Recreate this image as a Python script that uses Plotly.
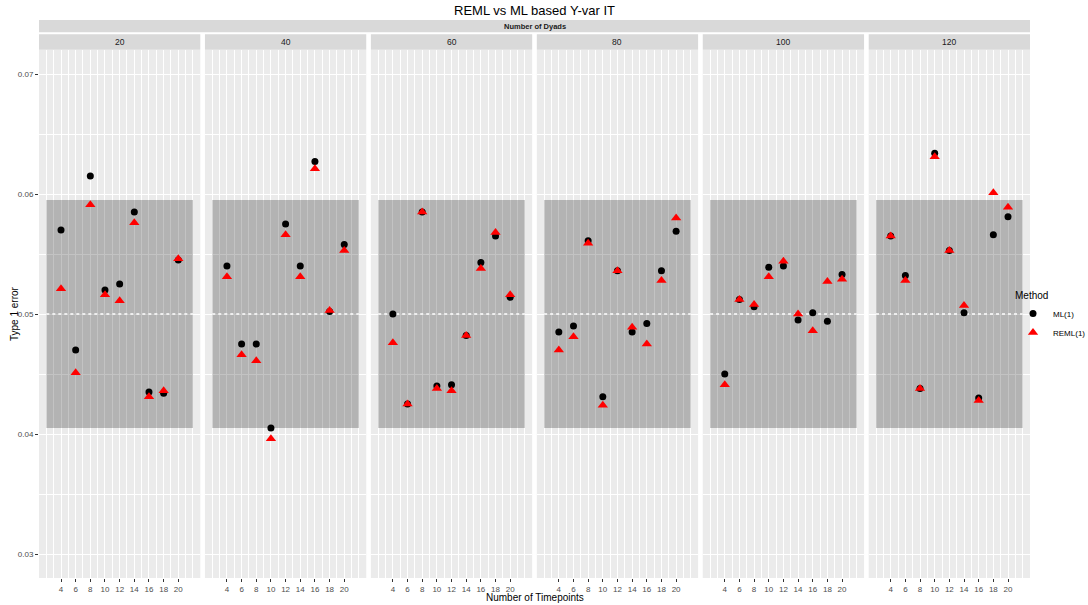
import plotly.graph_objects as go
from plotly.subplots import make_subplots

# ---------------- data ----------------
dyads = ["20", "40", "60", "80", "100", "120"]
timepoints = [4, 6, 8, 10, 12, 14, 16, 18, 20]

ml_values = {
    "20":  [0.0570, 0.0470, 0.0615, 0.0520, 0.0525, 0.0585, 0.0435, 0.0434, 0.0545],
    "40":  [0.0540, 0.0475, 0.0475, 0.0405, 0.0575, 0.0540, 0.0627, 0.0502, 0.0558],
    "60":  [0.0500, 0.0425, 0.0585, 0.0440, 0.0441, 0.0482, 0.0543, 0.0565, 0.0514],
    "80":  [0.0485, 0.0490, 0.0561, 0.0431, 0.0536, 0.0485, 0.0492, 0.0536, 0.0569],
    "100": [0.0450, 0.0512, 0.0506, 0.0539, 0.0540, 0.0495, 0.0501, 0.0494, 0.0533],
    "120": [0.0565, 0.0532, 0.0438, 0.0634, 0.0553, 0.0501, 0.0430, 0.0566, 0.0581],
}
reml_values = {
    "20":  [0.0521, 0.0451, 0.0591, 0.0516, 0.0511, 0.0576, 0.0431, 0.0436, 0.0546],
    "40":  [0.0531, 0.0466, 0.0461, 0.0396, 0.0566, 0.0531, 0.0621, 0.0503, 0.0553],
    "60":  [0.0476, 0.0425, 0.0585, 0.0438, 0.0436, 0.0482, 0.0538, 0.0568, 0.0516],
    "80":  [0.0470, 0.0481, 0.0559, 0.0424, 0.0536, 0.0489, 0.0475, 0.0528, 0.0580],
    "100": [0.0441, 0.0512, 0.0508, 0.0531, 0.0544, 0.0500, 0.0486, 0.0527, 0.0529],
    "120": [0.0565, 0.0528, 0.0438, 0.0631, 0.0553, 0.0507, 0.0428, 0.0601, 0.0589],
}
y_ticks = [0.03, 0.04, 0.05, 0.06, 0.07]
band_low, band_high = 0.0405, 0.0595
band_x0, band_x1 = 2, 22
nominal = 0.05

# ---------------- layout constants ----------------
W, H = 1088, 605
ML, MR, MT, MB = 39, 58, 50, 27
plot_w = W - ML - MR
plot_h = H - MT - MB
n = len(dyads)
gap_px = 4.64
panel_px = (plot_w - gap_px * (n - 1)) / n

def py(pix):
    return (H - MB - pix) / plot_h

def px(pix):
    return (pix - ML) / plot_w

font_family = "Liberation Sans, Arial, sans-serif"

fig = make_subplots(rows=1, cols=n, shared_yaxes=True,
                    horizontal_spacing=gap_px / plot_w)

for i, d in enumerate(dyads):
    col = i + 1
    fig.add_trace(go.Scatter(
        x=timepoints, y=ml_values[d], mode="markers", name="ML(1)",
        legendgroup="ML", showlegend=(i == 0),
        marker=dict(symbol="circle", size=7, color="black"),
    ), row=1, col=col)
    fig.add_trace(go.Scatter(
        x=timepoints, y=reml_values[d], mode="markers", name="REML(1)",
        legendgroup="REML", showlegend=(i == 0),
        marker=dict(symbol="triangle-up", size=9, color="#FF0000"),
    ), row=1, col=col)

    xref = "x" if i == 0 else f"x{col}"
    yref = "y" if i == 0 else f"y{col}"
    fig.add_shape(type="rect", xref=xref, yref=yref,
                  x0=band_x0, x1=band_x1, y0=band_low, y1=band_high,
                  fillcolor="rgba(0,0,0,0.235)", line=dict(width=0),
                  layer="between")
    fig.add_shape(type="line", xref=xref, yref=yref,
                  x0=band_x0, x1=band_x1, y0=nominal, y1=nominal,
                  line=dict(color="white", width=1.3, dash="dot"),
                  layer="between")

    # strip for each panel
    x0p = (i * (panel_px + gap_px)) / plot_w
    x1p = x0p + panel_px / plot_w
    fig.add_shape(type="rect", xref="paper", yref="paper",
                  x0=x0p, x1=x1p, y0=py(49.7), y1=py(34.3),
                  fillcolor="#D9D9D9", line=dict(width=0))
    fig.add_annotation(xref="paper", yref="paper", x=(x0p + x1p) / 2,
                       y=(py(49.7) + py(34.3)) / 2, text=d, showarrow=False,
                       xanchor="center", yanchor="middle",
                       font=dict(family=font_family, size=8.5, color="#1A1A1A"))

    fig.update_xaxes(row=1, col=col, range=[1, 23],
                     tickmode="array", tickvals=timepoints,
                     ticktext=[str(t) for t in timepoints],
                     showgrid=True, gridcolor="white", gridwidth=1.1,
                     minor=dict(tickmode="linear", tick0=1, dtick=1,
                                showgrid=True, gridcolor="white", gridwidth=0.55,
                                ticklen=0),
                     zeroline=False, showline=False,
                     ticks="outside", ticklen=3, tickcolor="#333333", tickwidth=1,
                     tickfont=dict(family=font_family, size=8, color="#4D4D4D"),
                     fixedrange=True)
    fig.update_yaxes(row=1, col=col, range=[0.028, 0.072],
                     tickmode="array", tickvals=y_ticks,
                     ticktext=[f"{v:.2f}" for v in y_ticks],
                     showgrid=True, gridcolor="white", gridwidth=1.1,
                     minor=dict(tickmode="linear", tick0=0.025, dtick=0.01,
                                showgrid=True, gridcolor="white", gridwidth=0.55,
                                ticklen=0),
                     zeroline=False, showline=False,
                     ticks="outside" if i == 0 else "", ticklen=3,
                     tickcolor="#333333", tickwidth=1,
                     showticklabels=(i == 0),
                     tickfont=dict(family=font_family, size=8, color="#4D4D4D"),
                     fixedrange=True)

# top strip "Number of Dyads"
fig.add_shape(type="rect", xref="paper", yref="paper",
              x0=0, x1=1, y0=py(32.3), y1=py(20),
              fillcolor="#D9D9D9", line=dict(width=0))
fig.add_annotation(xref="paper", yref="paper", x=0.5, y=(py(32.3) + py(20)) / 2,
                   text="<b>Number of Dyads</b>", showarrow=False,
                   xanchor="center", yanchor="middle",
                   font=dict(family=font_family, size=7.5, color="#1A1A1A"))

# axis titles
fig.add_annotation(xref="paper", yref="paper", x=0.5, y=py(597),
                   text="Number of Timepoints", showarrow=False,
                   xanchor="center", yanchor="middle",
                   font=dict(family=font_family, size=10, color="black"))
fig.add_annotation(xref="paper", yref="paper", x=px(14), y=py(314),
                   text="Type 1 error", showarrow=False, textangle=-90,
                   xanchor="center", yanchor="middle",
                   font=dict(family=font_family, size=10, color="black"))

fig.update_layout(
    width=W, height=H,
    margin=dict(l=ML, r=MR, t=MT, b=MB, autoexpand=False),
    paper_bgcolor="white", plot_bgcolor="#EBEBEB",
    title=dict(text="REML vs ML based Y-var IT", x=0.5, xref="paper",
               xanchor="center", y=1 - 10 / H, yanchor="middle",
               font=dict(family=font_family, size=13, color="black")),
    legend=dict(title=dict(text="Method", font=dict(family=font_family, size=10, color="black")),
                font=dict(family=font_family, size=8, color="black"),
                x=px(1013), xanchor="left",
                y=py(286), yanchor="top",
                bgcolor="rgba(0,0,0,0)", itemwidth=30,
                tracegroupgap=0),
    font=dict(family=font_family),
)

fig.write_html("out.html",
               config={"displayModeBar": False},
               post_script="document.body.style.margin='0px';document.body.style.overflow='hidden';")
